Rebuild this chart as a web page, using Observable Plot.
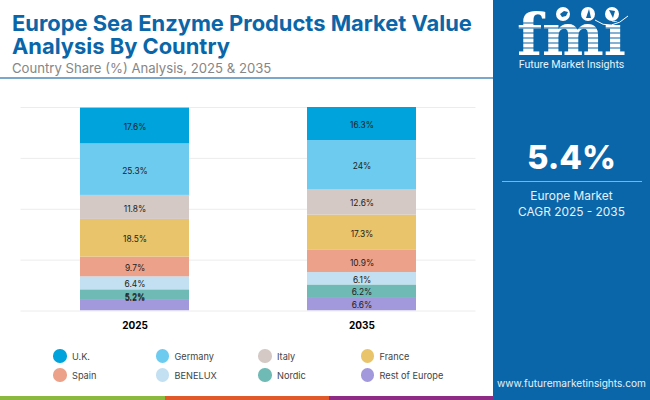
<!DOCTYPE html>
<html><head><meta charset="utf-8">
<script src="https://cdn.jsdelivr.net/npm/d3@7"></script>
<script src="https://cdn.jsdelivr.net/npm/@observablehq/plot@0.6"></script>
<style>
html,body{margin:0;padding:0;background:#fff;}
#page{position:relative;width:650px;height:400px;overflow:hidden;font-family:Inter,"Open Sans",sans-serif;}
#page>*{position:absolute;}
#chart{left:0;top:0;}
#chart svg{display:block;background:transparent;}
#title{left:12px;top:12px;font-size:21.9px;line-height:23.2px;font-weight:700;color:#0a66a8;white-space:nowrap;}
#sub{left:12px;top:59.5px;font-size:13.15px;line-height:16px;color:#868686;white-space:nowrap;}
#rule{left:0;top:77px;width:493px;height:2px;background:#7ba7cb;}
#panel{left:493px;top:0;width:157px;height:400px;background:#0a66a8;}
#logo{left:493px;top:0;}
#cagr{left:493px;width:157px;top:137px;text-align:center;color:#fff;font-size:33px;line-height:40px;font-weight:800;}
#sep{left:502px;top:180.5px;width:140px;height:1.5px;background:#7db4dc;}
#cagrText{left:493px;width:157px;top:187.5px;text-align:center;color:#e4f1fa;font-size:11.9px;line-height:16.5px;}
#site{left:493px;width:157px;top:376px;text-align:center;color:#e4f1fa;font-size:10.1px;line-height:14px;white-space:nowrap;}
.strip{top:396px;height:4px;}
.lg{font-size:9.2px;line-height:14px;color:#444;white-space:nowrap;}
.dot{width:13.5px;height:13.5px;border-radius:50%;}
</style></head>
<body><div id="page"><div id="chart"></div>
<div id="title">Europe Sea Enzyme Products Market Value<br>Analysis By Country</div>
<div id="sub">Country Share (%) Analysis, 2025 &amp; 2035</div>
<div id="rule"></div>
<div id="panel"></div>
<svg id="logo" width="157" height="78" viewBox="0 0 157 78">
  <text x="24" y="55" font-family="'DejaVu Serif','Liberation Serif',serif" font-weight="700" font-size="58" fill="#fff" textLength="109" lengthAdjust="spacingAndGlyphs">fmi</text>
  <g stroke="#0a66a8" stroke-width="1.1">
    <line x1="20" x2="140" y1="23" y2="23"/><line x1="20" x2="140" y1="28" y2="28"/><line x1="20" x2="140" y1="33" y2="33"/>
    <line x1="20" x2="140" y1="38" y2="38"/><line x1="20" x2="140" y1="43" y2="43"/><line x1="20" x2="140" y1="48" y2="48"/>
  </g>
  <rect x="108" y="0" width="26" height="21" fill="#0a66a8"/>
  <circle cx="70" cy="14" r="7" fill="#fff"/><circle cx="95" cy="14" r="7" fill="#fff"/><circle cx="119" cy="14" r="7" fill="#fff"/>
  <path d="M67 14 l4 -3 l4 1 l-2 4 l-4 1z M93 18 l3 -9 l2 9z M116 10 l6 1 l-2 7z" fill="#0a66a8"/>
  <path d="M102 20 Q118 32 135 16" fill="none" stroke="#fff" stroke-width="1"/>
  <text x="78.5" y="67.5" text-anchor="middle" font-family="Roboto,sans-serif" font-size="10.6" fill="#e8f3fb">Future Market Insights</text>
</svg>
<div id="cagr">5.4%</div><div id="sep"></div>
<div id="cagrText">Europe Market<br>CAGR 2025 - 2035</div>
<div id="site">www.futuremarketinsights.com</div>
</div>
<script>
const years = ["2025", "2035"];
const countries = ["U.K.", "Germany", "Italy", "France", "Spain", "BENELUX", "Nordic", "Rest of Europe"];
const share2025 = [17.6, 25.3, 11.8, 18.5, 9.7, 6.4, 5.2, 5.2];
const share2035 = [16.3, 24, 12.6, 17.3, 10.9, 6.1, 6.2, 6.6];
const colors = ["#00a3dc", "#6dcbf0", "#d4c9c5", "#e9c46a", "#eba18a", "#c2e0f2", "#6fbab5", "#a298dc"];
const gridTicks = [0, 25, 50, 75, 100];
const stripColors = ["#8bb83f", "#e0592a", "#8e2c85"];

const rows = years.flatMap((year, i) => countries.map((country, k) => ({
  year, country, value: (i ? share2035 : share2025)[k]
})));
// stack from the bottom: Rest of Europe first, U.K. on top
const bottomUp = rows.slice().sort((a, b) => countries.indexOf(b.country) - countries.indexOf(a.country));
const font = "Inter, 'Open Sans', sans-serif";
const isNordic25 = d => d.year === "2025" && d.country === "Nordic";
const isRest25 = d => d.year === "2025" && d.country === "Rest of Europe";
const label = (test, dy) => Plot.text(bottomUp, Plot.filter(test, Plot.stackY({order: null}, {
  x: "year", y: "value", z: "country", text: d => d.value + "%",
  fill: "#222", fontSize: 8.4, fontFamily: font, dy
})));

const chart = Plot.plot({
  width: 493, height: 340,
  marginTop: 107, marginBottom: 29.5, marginLeft: 20.5, marginRight: 17.5,
  x: {domain: years, paddingInner: 0.52, paddingOuter: 0.262, align: 0.5, label: null},
  y: {domain: [0, 100], label: null},
  color: {domain: countries, range: colors},
  marks: [
    Plot.ruleY(gridTicks, {stroke: "#ececec", strokeWidth: 1}),
    Plot.barY(bottomUp, Plot.stackY({order: null}, {x: "year", y: "value", z: "country", fill: "country", clip: true})),
    label(d => !isNordic25(d) && !isRest25(d), 1.4),
    label(isNordic25, 2.4),
    label(isRest25, -7),
    Plot.axisX({tickSize: 0, tickPadding: 10.5, fontSize: 10, fontWeight: 700, fill: "#000", fontFamily: font, label: null}),
    Plot.axisY({ticks: [], label: null})
  ]
});
document.getElementById("chart").appendChild(chart);

const page = document.getElementById("page");
countries.forEach((c, i) => {
  const col = i % 4, row = Math.floor(i / 4);
  const x = 53.2 + col * 102.5, y = 349 + row * 19;
  const dot = document.createElement("div");
  dot.className = "dot";
  dot.style.cssText = `left:${x}px;top:${y}px;background:${colors[i]}`;
  const t = document.createElement("div");
  t.className = "lg";
  t.style.cssText = `left:${x + 18.8}px;top:${y + 0.5}px`;
  t.textContent = c;
  page.append(dot, t);
});
stripColors.forEach((c, i) => {
  const s = document.createElement("div");
  s.className = "strip";
  s.style.cssText = `left:${i * 164.5}px;width:${164.5}px;background:${c}`;
  page.append(s);
});
</script></body></html>
